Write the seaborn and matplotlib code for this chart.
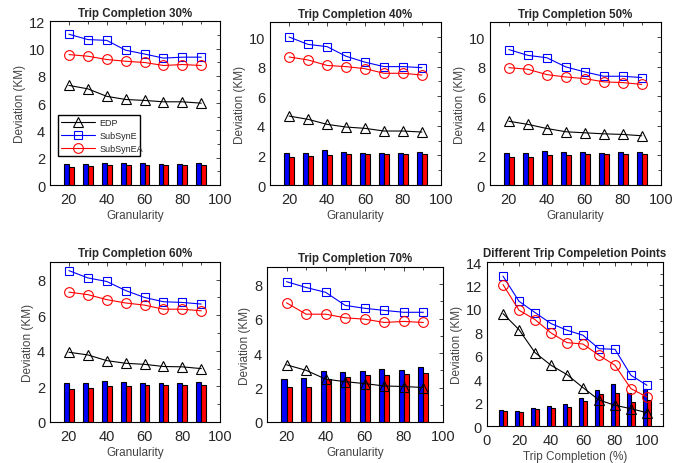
import numpy as np
import pandas as pd
import matplotlib
matplotlib.use('Agg')
import matplotlib.pyplot as plt
from matplotlib.ticker import MultipleLocator
import seaborn as sns

# x values
gran = [20, 30, 40, 50, 60, 70, 80, 90]
trip = [10, 20, 30, 40, 50, 60, 70, 80, 90, 100]

# Trip completion 30%
edp_30 = [7.3, 7.05, 6.5, 6.27, 6.2, 6.1, 6.1, 6.0]
sse_30 = [11.05, 10.66, 10.6, 9.88, 9.6, 9.3, 9.37, 9.37]
ssea_30 = [9.56, 9.44, 9.2, 9.07, 8.98, 8.76, 8.83, 8.76]
bar_e_30 = [1.56, 1.57, 1.63, 1.6, 1.58, 1.55, 1.57, 1.58]
bar_ea_30 = [1.34, 1.38, 1.44, 1.45, 1.45, 1.45, 1.48, 1.48]

# Trip completion 40%
edp_40 = [4.66, 4.44, 4.1, 3.92, 3.83, 3.65, 3.65, 3.58]
sse_40 = [10.0, 9.5, 9.35, 8.7, 8.3, 8.0, 8.0, 7.93]
ssea_40 = [8.65, 8.45, 8.08, 8.0, 7.86, 7.55, 7.55, 7.43]
bar_e_40 = [2.18, 2.18, 2.34, 2.25, 2.18, 2.18, 2.18, 2.25]
bar_ea_40 = [1.91, 1.96, 2.05, 2.09, 2.1, 2.1, 2.1, 2.12]

# Trip completion 50%
edp_50 = [4.31, 4.1, 3.82, 3.6, 3.53, 3.46, 3.42, 3.33]
sse_50 = [9.15, 8.76, 8.6, 7.98, 7.64, 7.35, 7.35, 7.26]
ssea_50 = [7.93, 7.82, 7.46, 7.3, 7.19, 6.97, 6.92, 6.8]
bar_e_50 = [2.18, 2.18, 2.3, 2.25, 2.2, 2.18, 2.2, 2.25]
bar_ea_50 = [1.87, 1.92, 2.02, 2.05, 2.07, 2.07, 2.07, 2.12]

# Trip completion 60%
edp_60 = [3.92, 3.77, 3.45, 3.3, 3.24, 3.12, 3.1, 3.0]
sse_60 = [8.51, 8.1, 7.9, 7.39, 7.0, 6.76, 6.72, 6.63]
ssea_60 = [7.3, 7.16, 6.88, 6.69, 6.57, 6.34, 6.34, 6.25]
bar_e_60 = [2.2, 2.2, 2.3, 2.25, 2.2, 2.2, 2.2, 2.25]
bar_ea_60 = [1.85, 1.92, 2.02, 2.05, 2.07, 2.07, 2.07, 2.1]

# Trip completion 70%
edp_70 = [3.32, 3.0, 2.49, 2.34, 2.23, 2.09, 2.06, 2.0]
sse_70 = [8.15, 7.81, 7.53, 6.77, 6.6, 6.48, 6.37, 6.37]
ssea_70 = [6.92, 6.26, 6.26, 6.05, 5.97, 5.78, 5.84, 5.78]
bar_e_70 = [2.47, 2.58, 2.96, 2.92, 2.96, 3.08, 3.04, 3.17]
bar_ea_70 = [2.06, 2.06, 2.49, 2.62, 2.7, 2.75, 2.79, 2.87]

# Different trip completion points
edp_all = [9.6, 8.23, 6.27, 5.19, 4.39, 3.28, 2.22, 1.77, 1.48, 1.14]
sse_all = [12.8, 10.65, 9.69, 8.75, 8.18, 7.75, 6.6, 6.55, 4.33, 3.48]
ssea_all = [12.08, 9.89, 9.09, 7.95, 7.12, 7.0, 6.04, 5.19, 3.19, 2.48]
bar_e_all = [1.34, 1.28, 1.54, 1.71, 1.85, 2.42, 3.05, 3.62, 2.85, 3.19]
bar_ea_all = [1.25, 1.2, 1.45, 1.57, 1.62, 2.14, 2.7, 2.85, 2.05, 2.25]

sns.set_style('white')
plt.rcParams['font.family'] = ['Liberation Sans', 'DejaVu Sans']

fig = plt.figure(figsize=(6.89, 4.64), dpi=100)

panels = [
    ('Trip Completion 30%', gran, edp_30, sse_30, ssea_30, bar_e_30, bar_ea_30,
     [0.0726, 0.599, 0.247, 0.353], (10, 100), 12, 'Granularity'),
    ('Trip Completion 40%', gran, edp_40, sse_40, ssea_40, bar_e_40, bar_ea_40,
     [0.392, 0.599, 0.248, 0.351], (10, 100), 11, 'Granularity'),
    ('Trip Completion 50%', gran, edp_50, sse_50, ssea_50, bar_e_50, bar_ea_50,
     [0.711, 0.599, 0.248, 0.351], (10, 100), 11, 'Granularity'),
    ('Trip Completion 60%', gran, edp_60, sse_60, ssea_60, bar_e_60, bar_ea_60,
     [0.0726, 0.0884, 0.247, 0.345], (10, 100), 9, 'Granularity'),
    ('Trip Completion 70%', gran, edp_70, sse_70, ssea_70, bar_e_70, bar_ea_70,
     [0.3875, 0.0884, 0.2554, 0.334], (10, 100), 9, 'Granularity'),
    ('Different Trip Compeletion Points', trip, edp_all, sse_all, ssea_all, bar_e_all, bar_ea_all,
     [0.7068, 0.0797, 0.2554, 0.3534], (0, 110), 14, 'Trip Completion (%)'),
]

for i, (title, xs, edp, sse, ssea, be, bea, pos, xlim, ytop, xlabel) in enumerate(panels):
    ax = fig.add_axes(pos)
    bars = pd.DataFrame({
        'x': list(xs) + list(xs),
        'y': list(be) + list(bea),
        'series': ['E'] * len(xs) + ['EA'] * len(xs),
    })
    sns.barplot(data=bars, x='x', y='y', hue='series', native_scale=True,
                palette=['#0000ff', '#ff0000'], width=0.52, errorbar=None,
                edgecolor='black', linewidth=0.8, saturation=1, legend=False, ax=ax)
    sns.lineplot(x=xs, y=edp, color='black', marker='^', markersize=7,
                 markerfacecolor='none', markeredgecolor='black', markeredgewidth=0.8,
                 linewidth=0.8, label='EDP', ax=ax, legend=False)
    sns.lineplot(x=xs, y=sse, color='#0000ff', marker='s', markersize=5.5,
                 markerfacecolor='none', markeredgecolor='#0000ff', markeredgewidth=0.8,
                 linewidth=0.8, label='SubSynE', ax=ax, legend=False)
    sns.lineplot(x=xs, y=ssea, color='#ff0000', marker='o', markersize=7,
                 markerfacecolor='none', markeredgecolor='#ff0000', markeredgewidth=0.8,
                 linewidth=0.8, label='SubSynEA', ax=ax, legend=False)

    ax.set_xlim(*xlim)
    ax.set_ylim(0, ytop)
    if xlim[0] == 0:
        ax.set_xticks([0, 20, 40, 60, 80, 100])
    else:
        ax.set_xticks([20, 40, 60, 80, 100])
    ax.xaxis.set_minor_locator(MultipleLocator(10))
    ax.set_yticks(np.arange(0, ytop + 0.1, 2))
    ax.yaxis.set_minor_locator(MultipleLocator(1))
    ax.tick_params(which='both', direction='in', top=True, right=True,
                   length=3, width=0.6, colors='#262626', labelsize=10.5)
    ax.tick_params(axis='x', pad=5)
    ax.tick_params(which='minor', length=2)
    for s in ax.spines.values():
        s.set_visible(True)
        s.set_color('black')
        s.set_linewidth(0.8)
    ax.set_title(title, fontsize=8.3, fontweight='bold', pad=4)
    ax.set_xlabel(xlabel, fontsize=8.5, color='#444444', labelpad=2)
    ax.set_ylabel('Deviation (KM)', fontsize=8.5, color='#444444', labelpad=2)

    if i == 0:
        ax.legend(handles=ax.lines[:3], loc='lower left', bbox_to_anchor=(0.047, 0.18, 0.48, 0.235),
                  mode='expand', fontsize=6.5, frameon=True, fancybox=False, edgecolor='black',
                  framealpha=1, borderpad=0.3, labelspacing=0.45, handlelength=3.8,
                  handletextpad=0.5, borderaxespad=0)

fig.savefig('out.png', dpi=100)
